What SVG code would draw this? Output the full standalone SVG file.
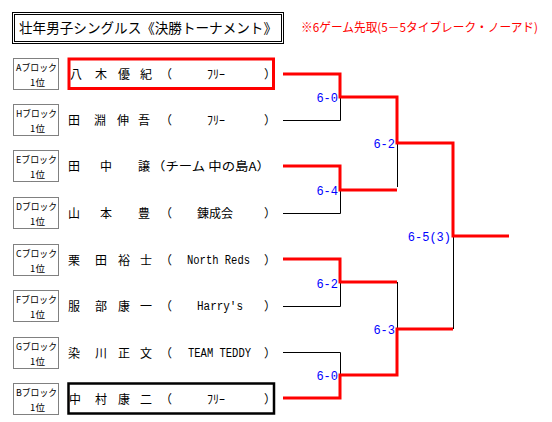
<svg xmlns="http://www.w3.org/2000/svg" width="552" height="422" viewBox="0 0 552 422">
<style>
.jp{font-family:"Noto Sans CJK JP","Noto Sans",sans-serif;fill:#000}
.nm{font-size:12px}
.lat{font-family:"Liberation Mono",monospace;font-size:12px;fill:#000}
.blk{font-family:"Noto Sans CJK JP",sans-serif;font-size:9.5px;fill:#000}
.bx{fill:none;stroke:#000;stroke-width:1;stroke-dasharray:1 1}
.sc{font-family:"Liberation Mono",monospace;font-size:12px;fill:#0000ff;text-anchor:end}
.win{fill:none;stroke:#ff0000;stroke-width:3}
.lose{fill:none;stroke:#000;stroke-width:1}
</style>
<rect width="552" height="422" fill="#fff"/>
<g id="title">
<rect x="12.5" y="12.5" width="271" height="31" fill="none" stroke="#000"/>
<rect x="14.5" y="14.5" width="267" height="27" fill="none" stroke="#000"/>
<text class="jp" x="19" y="33" font-size="14" textLength="258" lengthAdjust="spacingAndGlyphs">壮年男子シングルス《決勝トーナメント》</text>
</g>
<g id="note">
<text x="301" y="32" font-family="Noto Sans CJK JP,sans-serif" font-size="12" fill="#ff0000" textLength="237" lengthAdjust="spacingAndGlyphs">※6ゲーム先取(5－5タイブレーク・ノーアド)</text>
</g>
<g id="blocks">
<rect class="bx" x="13.5" y="58.5" width="45" height="31"/><text class="blk" x="16" y="71" textLength="41" lengthAdjust="spacingAndGlyphs">Aブロック</text><text class="blk" x="37.5" y="86" text-anchor="middle">1位</text>
<rect class="bx" x="13.5" y="104.5" width="45" height="31"/><text class="blk" x="16" y="117" textLength="41" lengthAdjust="spacingAndGlyphs">Hブロック</text><text class="blk" x="37.5" y="132" text-anchor="middle">1位</text>
<rect class="bx" x="13.5" y="150.5" width="45" height="31"/><text class="blk" x="16" y="163" textLength="41" lengthAdjust="spacingAndGlyphs">Eブロック</text><text class="blk" x="37.5" y="178" text-anchor="middle">1位</text>
<rect class="bx" x="13.5" y="197.5" width="45" height="31"/><text class="blk" x="16" y="210" textLength="41" lengthAdjust="spacingAndGlyphs">Dブロック</text><text class="blk" x="37.5" y="225" text-anchor="middle">1位</text>
<rect class="bx" x="13.5" y="244.5" width="45" height="31"/><text class="blk" x="16" y="257" textLength="41" lengthAdjust="spacingAndGlyphs">Cブロック</text><text class="blk" x="37.5" y="272" text-anchor="middle">1位</text>
<rect class="bx" x="13.5" y="290.5" width="45" height="31"/><text class="blk" x="16" y="303" textLength="41" lengthAdjust="spacingAndGlyphs">Fブロック</text><text class="blk" x="37.5" y="318" text-anchor="middle">1位</text>
<rect class="bx" x="13.5" y="337.5" width="45" height="31"/><text class="blk" x="16" y="350" textLength="41" lengthAdjust="spacingAndGlyphs">Gブロック</text><text class="blk" x="37.5" y="365" text-anchor="middle">1位</text>
<rect class="bx" x="13.5" y="383.5" width="45" height="31"/><text class="blk" x="16" y="396" textLength="41" lengthAdjust="spacingAndGlyphs">Bブロック</text><text class="blk" x="37.5" y="411" text-anchor="middle">1位</text>
</g>
<g id="player-A">
<rect x="69" y="59" width="204.5" height="29.5" fill="none" stroke="#ff0000" stroke-width="3"/>
<text class="jp nm" y="79"><tspan x="70">八</tspan><tspan x="95">木</tspan><tspan x="118">優</tspan><tspan x="140">紀</tspan><tspan x="160">（</tspan><tspan x="207">ﾌﾘｰ</tspan><tspan x="264">）</tspan></text>
</g>
<g id="player-H">
<text class="jp nm" y="125"><tspan x="68">田</tspan><tspan x="94">淵</tspan><tspan x="117">伸</tspan><tspan x="138">吾</tspan><tspan x="160">（</tspan><tspan x="207">ﾌﾘｰ</tspan><tspan x="264">）</tspan></text>
</g>
<g id="player-E">
<text class="jp nm" y="171"><tspan x="68">田</tspan><tspan x="100">中</tspan><tspan x="138">譲</tspan></text>
<text class="jp nm" x="152" y="171" textLength="118" lengthAdjust="spacingAndGlyphs">（チーム 中の島A）</text>
</g>
<g id="player-D">
<text class="jp nm" y="218"><tspan x="68">山</tspan><tspan x="100">本</tspan><tspan x="138">豊</tspan><tspan x="160">（</tspan><tspan x="197">錬成会</tspan><tspan x="264">）</tspan></text>
</g>
<g id="player-C">
<text class="jp nm" y="265"><tspan x="68">栗</tspan><tspan x="95">田</tspan><tspan x="118">裕</tspan><tspan x="140">士</tspan><tspan x="160">（</tspan><tspan x="264">）</tspan></text>
<text class="lat" x="187" y="264" textLength="63" lengthAdjust="spacingAndGlyphs">North Reds</text>
</g>
<g id="player-F">
<text class="jp nm" y="311"><tspan x="68">服</tspan><tspan x="95">部</tspan><tspan x="118">康</tspan><tspan x="140">一</tspan><tspan x="160">（</tspan><tspan x="264">）</tspan></text>
<text class="lat" x="197" y="310" textLength="46" lengthAdjust="spacingAndGlyphs">Harry's</text>
</g>
<g id="player-G">
<text class="jp nm" y="358"><tspan x="68">染</tspan><tspan x="95">川</tspan><tspan x="118">正</tspan><tspan x="140">文</tspan><tspan x="160">（</tspan><tspan x="264">）</tspan></text>
<text class="lat" x="188" y="357" textLength="63" lengthAdjust="spacingAndGlyphs">TEAM TEDDY</text>
</g>
<g id="player-B">
<rect x="68.5" y="383.5" width="205.5" height="30" fill="none" stroke="#000" stroke-width="2.5"/>
<text class="jp nm" y="404"><tspan x="69">中</tspan><tspan x="95">村</tspan><tspan x="118">康</tspan><tspan x="140">二</tspan><tspan x="160">（</tspan><tspan x="207">ﾌﾘｰ</tspan><tspan x="264">）</tspan></text>
</g>
<g id="connectors">
<path class="lose" d="M283,120.5 H340.5 V97"/>
<path class="lose" d="M283,213.5 H340.5 V190"/>
<path class="lose" d="M397.5,143 V187"/>
<path class="lose" d="M283,306.5 H340.5 V282"/>
<path class="lose" d="M283,352.5 H340.5 V375"/>
<path class="lose" d="M397.5,282 V329"/>
<path class="lose" d="M453.5,236 V329"/>
<path class="win" d="M283,74 H340 V97 H397 V143 H453 V236 H509"/>
<path class="win" d="M283,166 H340 V190 H397"/>
<path class="win" d="M283,259 H340 V282 H397"/>
<path class="win" d="M283,398 H340 V375 H397 V329 H453"/>
</g>
<g id="scores">
<text class="sc" x="338" y="102">6-0</text>
<text class="sc" x="395" y="148">6-2</text>
<text class="sc" x="338" y="195">6-4</text>
<text class="sc" x="451" y="241">6-5(3)</text>
<text class="sc" x="338" y="288">6-2</text>
<text class="sc" x="395" y="334">6-3</text>
<text class="sc" x="338" y="380">6-0</text>
</g>
</svg>
